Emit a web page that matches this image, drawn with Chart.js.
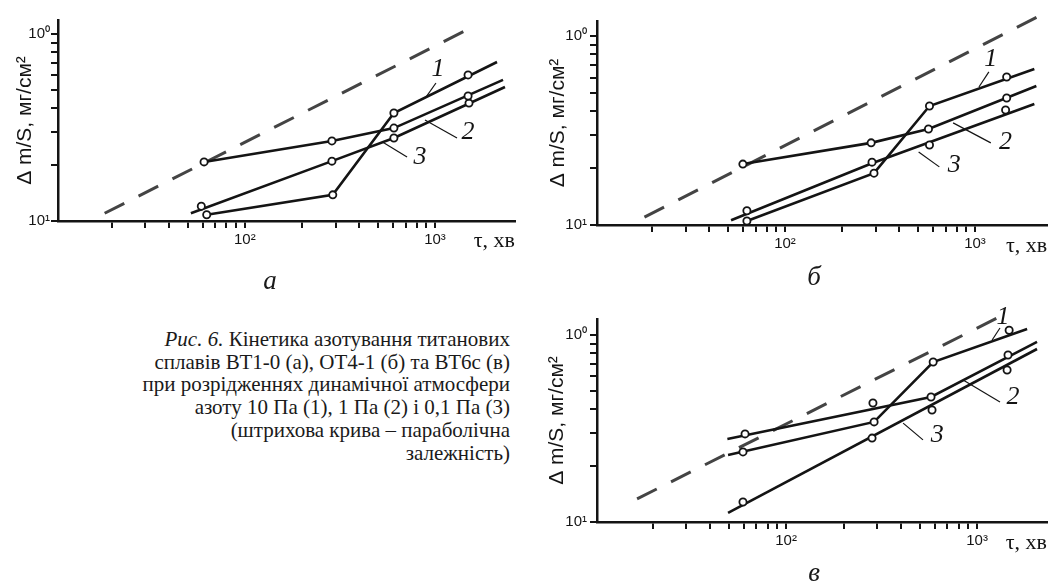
<!DOCTYPE html>
<html>
<head>
<meta charset="utf-8">
<script src="https://cdn.jsdelivr.net/npm/chart.js@4/dist/chart.umd.min.js"></script>
<style>
  html, body { margin: 0; padding: 0; background: #fff; }
  body { width: 1053px; height: 583px; position: relative; overflow: hidden; }
  canvas { position: absolute; }
  .caption {
    position: absolute; left: 20px; top: 328px; width: 490px; text-align: right;
    font-family: "Liberation Serif", serif; font-size: 21px; line-height: 22.7px; color: #1a1a1a;
  }
  .letter {
    position: absolute; transform: translate(-50%, -50%);
    font-family: "Liberation Serif", serif; font-style: italic; font-size: 27px; color: #1a1a1a;
  }
</style>
</head>
<body>
<canvas id="plotA" width="545" height="300" style="left:0;top:0"></canvas>
<canvas id="plotB" width="513" height="300" style="left:540px;top:0"></canvas>
<canvas id="plotC" width="513" height="283" style="left:540px;top:300px"></canvas>

<div class="letter" style="left:270px;top:280px">а</div>
<div class="letter" style="left:814px;top:276px">б</div>
<div class="letter" style="left:814px;top:572px">в</div>

<div class="caption"><i>Рис. 6.</i> Кінетика азотування титанових<br>сплавів ВТ1-0 (а), ОТ4-1 (б) та ВТ6с (в)<br>при розрідженнях динамічної атмосфери<br>азоту 10 Па (1), 1 Па (2) і 0,1 Па (3)<br>(штрихова крива – параболічна<br>залежність)</div>

<script>
  // ticks (log axes)
  const xTickValues = [20, 30, 40, 50, 60, 70, 80, 90, 100, 200, 300, 400, 500, 600, 700, 800, 900, 1000]
  const xTickLabels = ['', '', '', '', '', '', '', '', '10²', '', '', '', '', '', '', '', '', '10³']
  const yTickValues = [0.1, 0.2, 0.3, 0.4, 0.5, 0.6, 0.7, 0.8, 0.9, 1]
  const yTickLabels = ['10¹', '', '', '', '', '', '', '', '', '10⁰']

  // а: ВТ1-0  (tau in min, mass gain in mg/cm2)
  const a1Tau = [63, 290, 608, 1493]
  const a1Mass = [0.108, 0.138, 0.378, 0.604]
  const a1FitTau = [63, 290, 608, 2120]
  const a1FitMass = [0.108, 0.138, 0.378, 0.708]
  const a2Tau = [61, 287, 608, 1493]
  const a2Mass = [0.207, 0.268, 0.314, 0.466]
  const a2FitTau = [61, 287, 608, 2280]
  const a2FitMass = [0.207, 0.268, 0.314, 0.568]
  const a3Tau = [59, 287, 608, 1510]
  const a3Mass = [0.120, 0.209, 0.278, 0.427]
  const a3FitTau = [52, 287, 608, 2335]
  const a3FitMass = [0.110, 0.209, 0.278, 0.521]
  const aParabTau = [18.3, 1663]
  const aParabMass = [0.110, 1.12]

  // б: ОТ4-1
  const b1Tau = [63, 294, 576, 1468]
  const b1Mass = [0.105, 0.188, 0.426, 0.607]
  const b1FitTau = [63, 294, 576, 2053]
  const b1FitMass = [0.105, 0.188, 0.426, 0.669]
  const b2Tau = [60, 284, 569, 1468]
  const b2Mass = [0.210, 0.272, 0.322, 0.470]
  const b2FitTau = [60, 284, 569, 2104]
  const b2FitMass = [0.210, 0.272, 0.322, 0.544]
  const b3Tau = [63, 287, 576, 1449]
  const b3Mass = [0.119, 0.215, 0.265, 0.406]
  const b3FitTau = [52, 287, 2053]
  const b3FitMass = [0.106, 0.212, 0.437]
  const bParabTau = [18.2, 2128]
  const bParabMass = [0.110, 1.26]

  // в: ВТ6с
  const c1Tau = [59.5, 289, 589, 1472]
  const c1Mass = [0.237, 0.343, 0.717, 1.06]
  const c1FitTau = [49.7, 289, 589, 1828]
  const c1FitMass = [0.228, 0.343, 0.717, 1.077]
  const c2Tau = [61, 285, 574, 1452]
  const c2Mass = [0.296, 0.433, 0.466, 0.782]
  const c2FitTau = [49.3, 574, 2060]
  const c2FitMass = [0.278, 0.466, 0.918]
  const c3Tau = [59.5, 282, 581, 1436]
  const c3Mass = [0.128, 0.281, 0.397, 0.650]
  const c3FitTau = [49.7, 2060]
  const c3FitMass = [0.112, 0.842]
  const cParabTau = [16.6, 1274]
  const cParabMass = [0.133, 1.233]

  const ink = '#141414'
  const zip = (xs, ys) => xs.map((x, i) => ({ x, y: ys[i] }))

  // leader lines + curve numbers, given in data units
  const leaders = {
    id: 'leaders',
    afterDatasetsDraw (chart, args, opts) {
      const { ctx, scales: { x, y } } = chart
      ctx.save()
      ctx.strokeStyle = ink
      ctx.fillStyle = ink
      ctx.lineWidth = 1.2
      ctx.font = 'italic 26px "Liberation Serif"'
      ctx.textAlign = 'center'
      ctx.textBaseline = 'middle'
      for (const m of opts.marks) {
        ctx.beginPath()
        ctx.moveTo(x.getPixelForValue(m.from[0]), y.getPixelForValue(m.from[1]))
        ctx.lineTo(x.getPixelForValue(m.to[0]), y.getPixelForValue(m.to[1]))
        ctx.stroke()
        ctx.fillText(m.text, x.getPixelForValue(m.at[0]), y.getPixelForValue(m.at[1]))
      }
      ctx.restore()
    }
  }

  function datasets (curves, parab) {
    const dots = curves.map(c => ({
      data: zip(c.tau, c.mass),
      showLine: false,
      pointRadius: 3.6,
      pointBorderWidth: 1.8,
      pointBackgroundColor: '#fff',
      pointBorderColor: ink,
      clip: false
    }))
    const fits = curves.map(c => ({
      data: zip(c.fitTau, c.fitMass),
      showLine: true,
      borderColor: ink,
      borderWidth: 2.6,
      pointRadius: 0,
      tension: 0,
      clip: false
    }))
    const dashed = {
      data: zip(parab.tau, parab.mass),
      showLine: true,
      borderColor: '#444',
      borderWidth: 3,
      borderDash: [22, 16],
      pointRadius: 0,
      clip: false
    }
    return [...dots, ...fits, dashed]
  }

  function options (p) {
    return {
      responsive: false,
      animation: false,
      events: [],
      layout: { padding: p.padding },
      plugins: {
        legend: { display: false },
        tooltip: { enabled: false },
        leaders: { marks: p.marks }
      },
      scales: {
        x: {
          type: 'logarithmic',
          min: p.xMin,
          max: p.xMax,
          afterBuildTicks: s => { s.ticks = xTickValues.map(v => ({ value: v })) },
          afterFit: s => { s.height = p.xHeight },
          ticks: {
            autoSkip: false,
            maxRotation: 0,
            padding: 3,
            color: ink,
            font: { family: 'Liberation Sans', size: 15 },
            callback: v => xTickLabels[xTickValues.indexOf(v)] ?? ''
          },
          grid: { drawOnChartArea: false, drawTicks: true, tickLength: 7, color: ink, lineWidth: 2 },
          border: { color: ink, width: 2.5 },
          title: {
            display: true,
            text: 'τ, хв',
            align: 'end',
            color: ink,
            font: { family: 'Liberation Serif', size: 22, lineHeight: 1 },
            padding: { top: 0, bottom: p.xTitlePad }
          }
        },
        y: {
          type: 'logarithmic',
          min: 0.1,
          max: p.yMax,
          afterBuildTicks: s => { s.ticks = yTickValues.map(v => ({ value: v })) },
          afterFit: s => { s.width = p.yWidth },
          ticks: {
            autoSkip: false,
            padding: p.yTickPad,
            color: ink,
            font: { family: 'Liberation Sans', size: 15 },
            callback: v => yTickLabels[yTickValues.indexOf(v)] ?? ''
          },
          grid: { drawOnChartArea: false, drawTicks: true, tickLength: 7, color: ink, lineWidth: 2 },
          border: { color: ink, width: 2.5 },
          title: {
            display: true,
            text: 'Δ m/S, мг/см²',
            color: ink,
            font: { family: 'Liberation Sans', size: 21, lineHeight: 1 },
            padding: { top: p.yTitlePad, bottom: 0 }
          }
        }
      }
    }
  }

  new Chart(document.getElementById('plotA'), {
    type: 'scatter',
    data: {
      datasets: datasets([
        { tau: a1Tau, mass: a1Mass, fitTau: a1FitTau, fitMass: a1FitMass },
        { tau: a2Tau, mass: a2Mass, fitTau: a2FitTau, fitMass: a2FitMass },
        { tau: a3Tau, mass: a3Mass, fitTau: a3FitTau, fitMass: a3FitMass }
      ], { tau: aParabTau, mass: aParabMass })
    },
    options: options({
      padding: { left: 0, top: 20, right: 30, bottom: 0 },
      xMin: 10.4, xMax: 2636, yMax: 1.188,
      xHeight: 79, yWidth: 58, yTickPad: 1, yTitlePad: 15, xTitlePad: 48,
      marks: [
        { text: '1', from: [897, 0.46], to: [1012, 0.547], at: [1037, 0.65] },
        { text: '2', from: [886, 0.347], to: [1306, 0.278], at: [1493, 0.299] },
        { text: '3', from: [532, 0.264], to: [713, 0.22], at: [834, 0.22] }
      ]
    }),
    plugins: [leaders]
  })

  new Chart(document.getElementById('plotB'), {
    type: 'scatter',
    data: {
      datasets: datasets([
        { tau: b1Tau, mass: b1Mass, fitTau: b1FitTau, fitMass: b1FitMass },
        { tau: b2Tau, mass: b2Mass, fitTau: b2FitTau, fitMass: b2FitMass },
        { tau: b3Tau, mass: b3Mass, fitTau: b3FitTau, fitMass: b3FitMass }
      ], { tau: bParabTau, mass: bParabMass })
    },
    options: options({
      padding: { left: 0, top: 21, right: 1, bottom: 0 },
      xMin: 10.24, xMax: 2399, yMax: 1.2,
      xHeight: 75, yWidth: 57, yTickPad: 3, yTitlePad: 8, xTitlePad: 43,
      marks: [
        { text: '1', from: [1049, 0.537], to: [1183, 0.646], at: [1211, 0.755] },
        { text: '2', from: [767, 0.347], to: [1211, 0.272], at: [1449, 0.275] },
        { text: '3', from: [505, 0.243], to: [649, 0.203], at: [778, 0.207] }
      ]
    }),
    plugins: [leaders]
  })

  new Chart(document.getElementById('plotC'), {
    type: 'scatter',
    data: {
      datasets: datasets([
        { tau: c1Tau, mass: c1Mass, fitTau: c1FitTau, fitMass: c1FitMass },
        { tau: c2Tau, mass: c2Mass, fitTau: c2FitTau, fitMass: c2FitMass },
        { tau: c3Tau, mass: c3Mass, fitTau: c3FitTau, fitMass: c3FitMass }
      ], { tau: cParabTau, mass: cParabMass })
    },
    options: options({
      padding: { left: 0, top: 19, right: 6, bottom: 0 },
      xMin: 10.24, xMax: 2323, yMax: 1.218,
      xHeight: 61, yWidth: 57, yTickPad: 3, yTitlePad: 7, xTitlePad: 29,
      marks: [
        { text: '1', from: [1199, 0.94], to: [1318, 1.09], at: [1368, 1.248] },
        { text: '2', from: [845, 0.574], to: [1318, 0.438], at: [1542, 0.466] },
        { text: '3', from: [410, 0.338], to: [521, 0.275], at: [618, 0.292] }
      ]
    }),
    plugins: [leaders]
  })
</script>
</body>
</html>
